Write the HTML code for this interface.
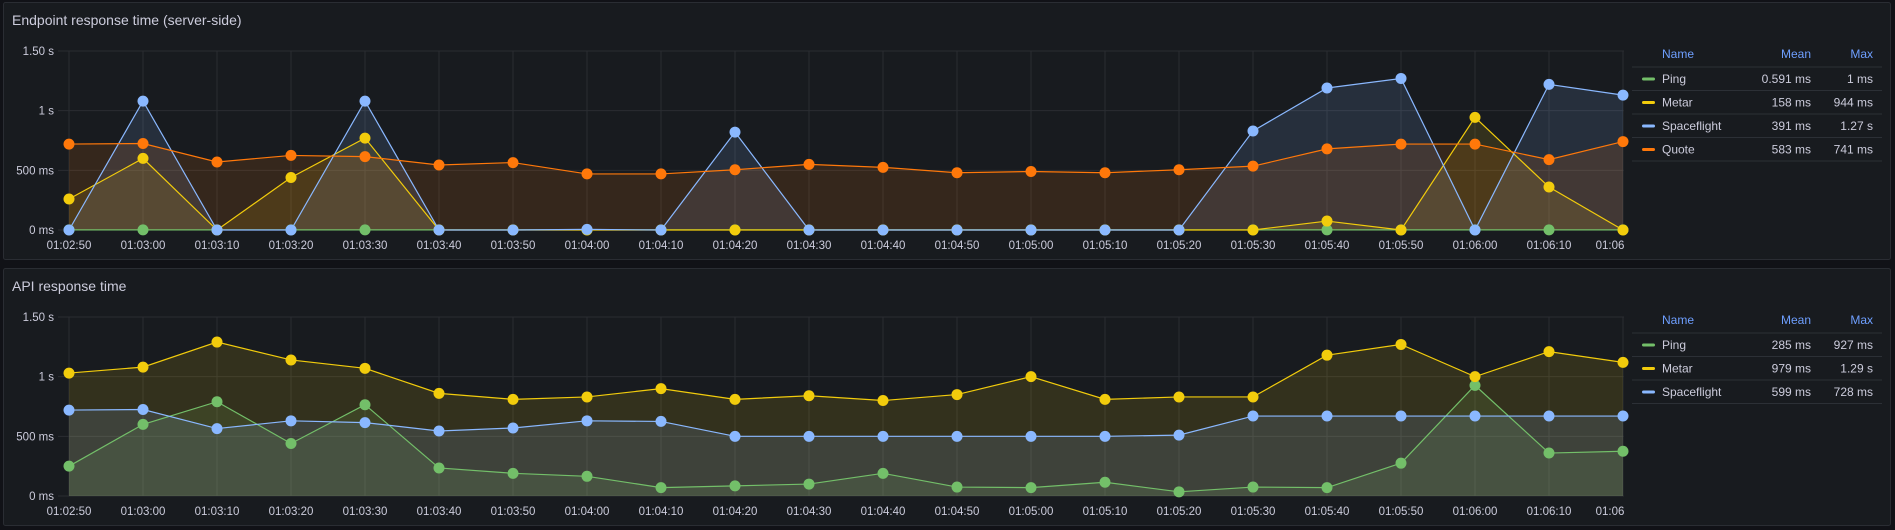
<!DOCTYPE html>
<html><head><meta charset="utf-8">
<style>
html,body{margin:0;padding:0;background:#111217;width:1895px;height:530px;overflow:hidden;font-family:"Liberation Sans",sans-serif;}
svg{display:block}
</style></head>
<body>
<svg id="root" width="1895" height="530" xmlns="http://www.w3.org/2000/svg"></svg>
<script>
const timeLabels=["01:02:50","01:03:00","01:03:10","01:03:20","01:03:30","01:03:40","01:03:50","01:04:00","01:04:10","01:04:20","01:04:30","01:04:40","01:04:50","01:05:00","01:05:10","01:05:20","01:05:30","01:05:40","01:05:50","01:06:00","01:06:10","01:06"];
const yTickValues=[0,500,1000,1500];
const yTickLabels=["0 ms","500 ms","1 s","1.50 s"];
const p1Ping=[1,1,1,1,1,1,1,1,1,1,1,1,1,1,1,1,1,1,1,1,1,1];
const p1Metar=[260,600,0,440,770,0,0,0,0,0,0,0,0,0,0,0,0,75,0,944,360,0];
const p1Spaceflight=[0,1080,0,0,1080,0,0,5,0,820,0,0,0,0,0,0,830,1190,1270,0,1220,1130];
const p1Quote=[720,725,570,625,615,545,565,470,470,505,550,525,480,490,480,505,535,680,720,720,590,741];
const p2Ping=[250,600,790,440,765,235,190,165,70,85,100,190,75,70,115,35,75,70,275,927,360,375];
const p2Metar=[1030,1080,1290,1140,1070,860,810,830,900,810,840,800,850,1000,810,830,830,1180,1270,1000,1210,1120];
const p2Spaceflight=[720,725,565,630,615,545,570,630,625,500,500,500,500,500,500,510,670,670,670,670,670,670];
const legend1Names=["Ping","Metar","Spaceflight","Quote"];
const legend1Mean=["0.591 ms","158 ms","391 ms","583 ms"];
const legend1Max=["1 ms","944 ms","1.27 s","741 ms"];
const legend2Names=["Ping","Metar","Spaceflight"];
const legend2Mean=["285 ms","979 ms","599 ms"];
const legend2Max=["927 ms","1.29 s","728 ms"];

const C={ping:"#73bf69",metar:"#f2cc0c",space:"#8ab8ff",quote:"#ff780a"};
const NS="http://www.w3.org/2000/svg";
const root=document.getElementById('root');
function mk(tag,attrs,parent){const e=document.createElementNS(NS,tag);for(const k in attrs)e.setAttribute(k,attrs[k]);(parent||root).appendChild(e);return e;}

function panel(oy,title,series,names,means,maxs,pname){
  const g=mk('g',{});
  
  
  const bg=mk('rect',{x:3.5,y:oy+2.5,width:1887,height:257,rx:2,fill:'#181b1f',stroke:'#2a2d33'},g);
  
  
  const t=mk('text',{x:12,y:oy+25,fill:'#ccccdc','font-size':14},g);t.textContent=title;
  
  
  const x0=69,dx=74,y0=oy+230,ys=179/1500;
  const X=i=>x0+i*dx, Y=v=>y0-v*ys;
  // grid
  yTickValues.forEach((v,i)=>{
    const l=mk('line',{x1:58,x2:1624,y1:Y(v),y2:Y(v),stroke:'#2a2d32'},g);
    
    
    const tx=mk('text',{x:54,y:Y(v)+4,fill:'#ccccdc','font-size':11.5,'text-anchor':'end'},g);tx.textContent=yTickLabels[i];
    
    
  });
  timeLabels.forEach((s,i)=>{
    const l=mk('line',{x1:X(i),x2:X(i),y1:Y(1500),y2:y0,stroke:'#2a2d32'},g);
    
    
    const tx=mk('text',{x:Math.min(X(i),1624-(i==timeLabels.length-1?14:0)),y:oy+249,fill:'#ccccdc','font-size':11.5,'text-anchor':i==timeLabels.length-1?'middle':'middle'},g);tx.textContent=s;
    
    
  });
  series.forEach(s=>{
    const pts=s.d.map((v,i)=>X(i)+','+Y(v)).join(' ');
    const a=mk('polygon',{points:X(0)+','+y0+' '+pts+' '+X(s.d.length-1)+','+y0,fill:s.c,'fill-opacity':0.13},g);
    
    
  });
  series.forEach(s=>{
    const pts=s.d.map((v,i)=>X(i)+','+Y(v)).join(' ');
    const l=mk('polyline',{points:pts,fill:'none',stroke:s.c,'stroke-width':1.2},g);
    
    
  });
  series.forEach(s=>{
    s.d.forEach((v,i)=>{
      const c=mk('circle',{cx:X(i),cy:Y(v),r:5.5,fill:s.c},g);
      
      
    });
  });
  // legend
  const hy=oy+58;
  [["Name",1662,'start'],["Mean",1811,'end'],["Max",1873,'end']].forEach(h=>{
    const tx=mk('text',{x:h[1],y:hy,fill:'#6e9fff','font-size':12,'text-anchor':h[2]},g);tx.textContent=h[0];
    
    
  });
  mk('line',{x1:1632,x2:1882,y1:oy+67,y2:oy+67,stroke:'#2c3036'},g);
  names.forEach((n,i)=>{
    const ry=oy+67+i*23.5;
    const cy=ry+12;
    const row=mk('g',{},g);
    
    
    mk('rect',{x:1642,y:cy-1.5,width:13,height:3,rx:1.5,fill:series[i].c},row);
    const a=mk('text',{x:1662,y:cy+4,fill:'#ccccdc','font-size':12},row);a.textContent=n;
    const b=mk('text',{x:1811,y:cy+4,fill:'#ccccdc','font-size':12,'text-anchor':'end'},row);b.textContent=means[i];
    const c=mk('text',{x:1873,y:cy+4,fill:'#ccccdc','font-size':12,'text-anchor':'end'},row);c.textContent=maxs[i];
    mk('line',{x1:1632,x2:1882,y1:ry+23.5,y2:ry+23.5,stroke:'#2c3036'},row);
  });
}
panel(0,"Endpoint response time (server-side)",
  [{n:'ping',d:p1Ping,c:C.ping},{n:'metar',d:p1Metar,c:C.metar},{n:'spaceflight',d:p1Spaceflight,c:C.space},{n:'quote',d:p1Quote,c:C.quote}],
  legend1Names,legend1Mean,legend1Max,'endpoint-response-panel');
panel(266,"API response time",
  [{n:'ping',d:p2Ping,c:C.ping},{n:'metar',d:p2Metar,c:C.metar},{n:'spaceflight',d:p2Spaceflight,c:C.space}],
  legend2Names,legend2Mean,legend2Max,'api-response-panel');
</script>
</body></html>
